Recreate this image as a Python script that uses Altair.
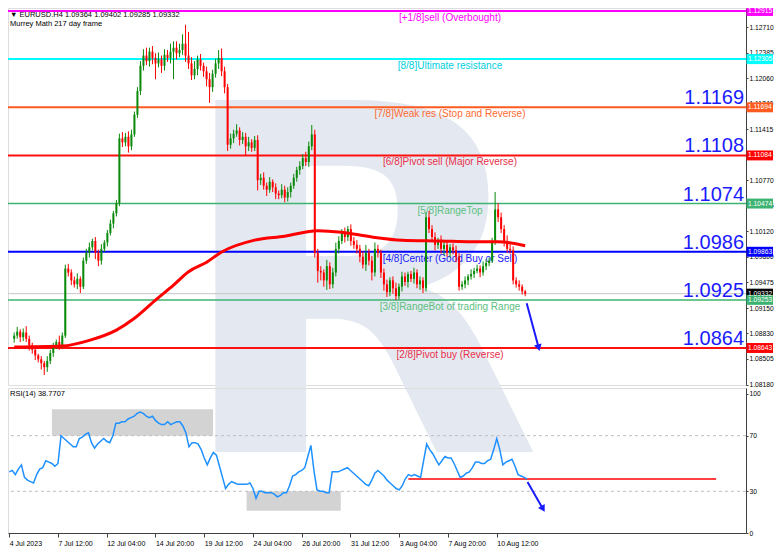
import altair as alt
import pandas as pd

# ---------------- data ----------------
first_open = 1.0876
closes = [
    1.0880, 1.0885, 1.0878, 1.0884, 1.0876, 1.0868,
    1.0862, 1.0855, 1.0850, 1.0845, 1.0840, 1.0848,
    1.0858, 1.0866, 1.0872, 1.0868, 1.0880,
    1.0965,
    1.0960, 1.0950, 1.0945, 1.0952, 1.0942,
    1.0975, 1.0985, 1.0992, 1.1000,
    1.0985, 1.0975, 1.0990,
    1.0998, 1.1010, 1.1022, 1.1035, 1.1048,
    1.1130,
    1.1125, 1.1132, 1.1120, 1.1135,
    1.1160, 1.1190, 1.1222,
    1.1235, 1.1228, 1.1240, 1.1232, 1.1225, 1.1230, 1.1222, 1.1236, 1.1232, 1.1240, 1.1245, 1.1238, 1.1242,
    1.1250, 1.1235,
    1.1225, 1.1210, 1.1218, 1.1230, 1.1222, 1.1215, 1.1205, 1.1195, 1.1212, 1.1225, 1.1232,
    1.1215, 1.1195,
    1.1122,
    1.1130, 1.1136, 1.1140, 1.1128, 1.1132, 1.1120, 1.1125, 1.1118, 1.1128,
    1.1077,
    1.1080, 1.1070, 1.1065, 1.1075, 1.1068, 1.1060, 1.1058, 1.1065, 1.1055, 1.1062, 1.1070,
    1.1080, 1.1090, 1.1095, 1.1105, 1.1100, 1.1120, 1.1135,
    1.0985,
    1.0962,
    1.0960, 1.0950, 1.0968, 1.0945, 1.0960,
    1.0990, 1.1000, 1.1010, 1.1005, 1.1015, 1.1000, 1.0995,
    1.0990, 1.0980, 1.0970, 1.0985, 1.0975, 1.0960, 1.0990, 1.0985, 1.0960,
    1.0945, 1.0935, 1.0950, 1.0940, 1.0930, 1.0942, 1.0955, 1.0948, 1.0958, 1.0952, 1.0960, 1.0945, 1.0950, 1.0940,
    1.1030,
    1.1015, 1.1005, 1.0995, 1.1000, 1.0990, 1.0995, 1.0985, 1.0992, 1.0988, 1.0980,
    1.0942,
    1.0945, 1.0950, 1.0955, 1.0958, 1.0962, 1.0965, 1.0960, 1.0968, 1.0972, 1.0975,
    1.1000, 1.1040,
    1.1030, 1.1015, 1.1000, 1.0990, 1.0988,
    1.0950,
    1.0945, 1.0942, 1.0936, 1.0933,
]
upper_wick_pips = [
    4, 6, 3, 5, 8, 4, 3, 5, 2, 4, 3, 6, 4, 5, 3, 8, 4,
    5,
    6, 4, 5, 7, 3,
    4, 5, 6, 3,
    5, 4, 6,
    3, 4, 5, 3, 4,
    6,
    8, 5, 7, 6,
    4, 5, 6,
    8, 10, 5, 7, 6, 9, 5, 7, 6, 10, 8, 8, 8,
    12, 24,
    30, 8, 10, 5, 7, 4, 6, 8, 5, 6, 10,
    12, 6,
    4,
    6, 5, 8, 4, 6, 5, 7, 4, 5,
    6,
    5, 7, 4, 6, 3, 5, 4, 7, 5, 6, 4,
    5, 4, 6, 5, 8, 6, 12,
    6,
    5,
    6, 4, 8, 5, 6,
    8, 6, 5, 7, 4, 6, 5,
    6, 5, 7, 10, 5, 6, 8, 5, 4,
    5, 6, 4, 5, 7, 4, 6, 5, 3, 4, 6, 4, 5, 4,
    6,
    8, 5, 6, 4, 7, 5, 6, 4, 5, 6,
    5,
    4, 5, 3, 6, 4, 5, 4, 6, 5, 4,
    4, 22,
    8, 6, 5, 7, 6,
    5,
    4, 5, 3, 2,
]
lower_wick_pips = [
    5, 4, 6, 5, 4, 7, 5, 6, 4, 8, 10, 6, 4, 5, 3, 6, 4,
    3,
    5, 6, 4, 6, 8,
    3, 4, 6, 4,
    8, 7, 5,
    4, 5, 3, 6, 4,
    4,
    6, 5, 8, 5,
    3, 4, 5,
    6, 5, 7, 8, 20, 5, 9, 6, 5, 7, 35, 8, 5,
    6, 8,
    7, 6, 5, 8, 6, 7, 9, 20, 6, 5, 7,
    6, 8,
    8,
    5, 6, 4, 7, 5, 12, 6, 5, 4,
    13,
    6, 5, 8, 4, 6, 7, 5, 4, 6, 5, 7,
    4, 5, 6, 4, 5, 6, 5,
    6,
    15,
    10, 8, 12, 6, 5,
    5, 6, 4, 7, 5, 6, 5,
    6, 7, 5, 8, 6, 10, 5, 6, 7,
    8, 6, 5, 7, 5, 4, 6, 5, 7, 4, 6, 5, 7, 6,
    4,
    5, 6, 7, 5, 6, 8, 5, 6, 5, 7,
    5,
    4, 5, 6, 4, 5, 3, 6, 4, 5, 4,
    3, 5,
    6, 5, 7, 5, 4,
    5,
    4, 5, 4, 3,
]
rsi_values = [
    44, 45, 42, 46, 49, 40, 38, 37, 36, 42, 46, 47, 52, 51, 50, 48, 50,
    70, 68, 66, 64, 62, 62, 68, 69, 71, 72, 65, 61, 64, 66, 68, 66, 65, 70,
    79, 79, 80, 80, 82, 83, 84, 86, 87, 86, 84, 83, 84, 81, 79, 78, 78, 80, 78, 79, 80, 80, 77,
    72, 62, 65, 65, 64, 60, 54, 49, 54, 58, 56, 48, 40, 32, 35, 37, 36, 35, 35, 35, 35, 36, 32,
    25, 30, 30, 29, 29, 29, 28, 26, 27, 29, 29, 34, 41, 42, 44, 45, 47, 55, 63, 45, 31, 30, 30, 29, 29,
    44, 44, 44, 45, 46, 47, 45, 43, 41, 39, 37, 35, 34, 38, 43, 45, 43, 41, 38, 36,
    34, 32, 31, 34, 39, 42, 41, 42, 41, 40, 52,
    64, 60, 57, 53, 49, 52, 55, 54, 54, 50, 45, 40, 41, 43, 44, 47, 51, 51, 50, 50,
    52, 53, 60, 68, 60, 49, 51, 52, 53, 48, 42, 41, 40, 38.77,
]
ma_index = [0, 16, 25, 34, 40, 47, 53, 58, 64, 69, 80, 90, 101, 109, 119, 129, 142, 152, 161, 170]
ma_values = [1.08655, 1.08668, 1.0874, 1.0887, 1.0902, 1.0925, 1.0944, 1.0961, 1.0973, 1.0986,
             1.1001, 1.1006, 1.1013, 1.1011, 1.1005, 1.1001, 1.1000, 1.0999, 1.0999, 1.0994]

level_prices = [1.12915, 1.12305, 1.11694, 1.11084, 1.10474, 1.09863, 1.09253, 1.08643]
level_names = ["[+1/8]sell (Overbought)", "[8/8]Ultimate resistance", "[7/8]Weak res (Stop and Reverse)",
               "[6/8]Pivot sell (Major Reverse)", "[5/8]RangeTop", "[4/8]Center (Good Buy or Sell)",
               "[3/8]RangeBot of trading Range", "[2/8]Pivot buy (Reverse)"]
level_colors = ["#ff00ff", "#00ffff", "#ff5a1f", "#ff1010", "#3cb371", "#0000ff", "#3cb371", "#ff1010"]
level_text_colors = ["#ff00ff", "#00d0e0", "#ff6a30", "#e8304a", "#5cbf80", "#2020ff", "#5cbf80", "#e8304a"]
level_widths = [2, 2, 2, 2, 1.5, 2, 1.5, 2]
big_labels = ["1.1169", "1.1108", "1.1074", "1.0986", "1.0925", "1.0864"]
big_label_prices = [1.11694, 1.11084, 1.10474, 1.09863, 1.09253, 1.08643]

current_price = 1.09332
tag_prices = [1.12915, 1.12305, 1.11694, 1.11084, 1.10474, 1.09863, 1.09332, 1.09253, 1.08643]
tag_texts = ["1.12915", "1.12305", "1.11694", "1.11084", "1.10474", "1.09863", "1.09332", "1.09253", "1.08643"]
tag_colors = ["#ff00ff", "#00ffff", "#ff5a1f", "#ff0000", "#3cb371", "#0000ff", "#000000", "#3cb371", "#ff0000"]

price_axis_values = [1.0818, 1.08505, 1.0883, 1.0915, 1.09475, 1.098, 1.1012, 1.10445,
                     1.1077, 1.11095, 1.11415, 1.1174, 1.1206, 1.12385, 1.1271]
time_tick_index = [0, 16, 32, 48, 64, 80, 96, 112, 128, 144, 160]
time_tick_labels = ["4 Jul 2023", "7 Jul 12:00", "12 Jul 04:00", "14 Jul 20:00", "19 Jul 12:00",
                    "24 Jul 04:00", "26 Jul 20:00", "31 Jul 12:00", "3 Aug 04:00", "7 Aug 20:00", "10 Aug 12:00"]

rsi_box_x = [14.0, 77.9]
rsi_box_x2 = [66.9, 108.8]
rsi_box_lo = [70, 16]
rsi_box_hi = [89, 30]
rsi_level = 38.8
rsi_level_from, rsi_level_to = 131, 232
arrow_main_idx = [170.5, 174.4]
arrow_main_price = [1.0921, 1.0866]
arrow_rsi_idx = [170.1, 175.0]
arrow_rsi_val = [36.7, 18.0]

title_text = "\u25bc EURUSD.H4  1.09364 1.09402 1.09285 1.09332"
indicator_text = "Murrey Math 217 day frame"
rsi_text = "RSI(14) 38.7707"

# ---------------- styling ----------------
FONT = "Liberation Sans"
GREEN = "#0a8a0a"
RED = "#ff0000"
BLUE = "#1a1aff"
W, H1, H2 = 738, 377, 145
XDOM = [-0.4, 241.8]
YDOM = [1.08174, 1.12953]
RDOM = [0, 104.3]
TAG_HALF = 0.00063
AX_FS = 6.7

n = min(len(closes), len(upper_wick_pips), len(lower_wick_pips))
opens = [first_open] + closes[:-1]
candles = pd.DataFrame({
    "i": list(range(n)),
    "open": opens[:n],
    "close": closes[:n],
    "high": [max(opens[k], closes[k]) + upper_wick_pips[k] * 1e-4 for k in range(n)],
    "low": [min(opens[k], closes[k]) - lower_wick_pips[k] * 1e-4 for k in range(n)],
    "up": [closes[k] > opens[k] for k in range(n)],
})
rsi_df = pd.DataFrame({"i": list(range(len(rsi_values))), "v": rsi_values})
ma_df = pd.DataFrame({"i": ma_index, "v": ma_values})
levels_df = pd.DataFrame({"price": level_prices, "name": level_names, "color": level_colors,
                          "tcolor": level_text_colors, "w": level_widths})
big_df = pd.DataFrame({"price": big_label_prices, "t": big_labels})
tags_df = pd.DataFrame({"price": tag_prices, "t": tag_texts, "color": tag_colors})

xs = alt.Scale(domain=XDOM, nice=False, zero=False)
ys = alt.Scale(domain=YDOM, nice=False, zero=False)
rs = alt.Scale(domain=RDOM, nice=False, zero=False)
yaxis = alt.Axis(orient="right", values=price_axis_values, format=".5f", title=None, grid=False,
                 labelFontSize=AX_FS, tickSize=2, labelPadding=1, domainColor="#404040",
                 tickColor="#404040", labelColor="#000000", labelFont=FONT, labelOverlap=False)
label_expr = "[" + ",".join("'" + s + "'" for s in time_tick_labels) + "][round(datum.value/16)]"
rxaxis = alt.Axis(values=time_tick_index, labelExpr=label_expr, title=None, grid=False,
                  labelAlign="left", labelFontSize=7, tickSize=4, labelPadding=2,
                  labelFlush=False, labelOverlap=False, domainColor="#404040",
                  tickColor="#404040", labelColor="#000000", labelFont=FONT)
ryaxis = alt.Axis(orient="right", values=[0, 30, 70, 100], title=None, grid=False,
                  labelFontSize=AX_FS, tickSize=2, labelPadding=1, domainColor="#404040",
                  tickColor="#404040", labelColor="#000000", labelFont=FONT)


def X(f):
    return alt.X(f, type="quantitative", scale=xs, axis=None)


def Y(f):
    return alt.Y(f, type="quantitative", scale=ys, axis=yaxis)


def RX(f):
    return alt.X(f, type="quantitative", scale=xs, axis=rxaxis)


def RY(f):
    return alt.Y(f, type="quantitative", scale=rs, axis=ryaxis)


one = pd.DataFrame({"t": ["R"]})

watermark = alt.Chart(one).mark_text(
    font="DejaVu Sans", fontWeight="bold", fontSize=483, color="#e4e9f1",
    align="left", baseline="alphabetic").encode(x=alt.value(163), y=alt.value(444), text="t:N")

cur_line = alt.Chart(pd.DataFrame({"price": [current_price]})).mark_rule(
    color="#c8c8c8", strokeWidth=1).encode(y=Y("price"))

level_rules = alt.Chart(levels_df).mark_rule().encode(
    y=Y("price"), color=alt.Color("color:N", scale=None),
    strokeWidth=alt.StrokeWidth("w:Q", scale=None))

level_text = alt.Chart(levels_df).mark_text(
    font=FONT, fontSize=10, align="center", baseline="middle", dy=7).encode(
    x=alt.value(442), y=Y("price"), text="name:N", color=alt.Color("tcolor:N", scale=None))

big_text = alt.Chart(big_df).mark_text(
    font=FONT, fontSize=20, align="right", baseline="alphabetic", dy=-3, color=BLUE).encode(
    x=alt.value(736), y=Y("price"), text="t:N")

cond = alt.condition("datum.up", alt.value(GREEN), alt.value(RED))
wicks = alt.Chart(candles).mark_rule(strokeWidth=1).encode(
    x=X("i"), y=Y("low"), y2=alt.Y2("high"), color=cond)
bodies = alt.Chart(candles).mark_bar(size=2).encode(
    x=X("i"), y=Y("open"), y2=alt.Y2("close"), color=cond)

ma_line = alt.Chart(ma_df).mark_line(color=RED, strokeWidth=3, interpolate="monotone").encode(
    x=X("i"), y=Y("v"))

arrow_df = pd.DataFrame({"i": arrow_main_idx, "p": arrow_main_price})
arrow_line = alt.Chart(arrow_df).mark_line(color=BLUE, strokeWidth=2).encode(x=X("i"), y=Y("p"))
arrow_head = alt.Chart(arrow_df.tail(1)).mark_point(
    shape="triangle", filled=True, size=60, angle=165, color=BLUE, opacity=1).encode(x=X("i"), y=Y("p"))

tag_rect = alt.Chart(tags_df).transform_calculate(
    lo=f"datum.price - {TAG_HALF}", hi=f"datum.price + {TAG_HALF}").mark_rect().encode(
    x=alt.value(738.5), x2=alt.value(765), y=Y("lo:Q"), y2=alt.Y2("hi:Q"),
    color=alt.Color("color:N", scale=None))
tag_text = alt.Chart(tags_df).mark_text(
    font=FONT, fontSize=AX_FS, align="left", baseline="middle", color="#ffffff").encode(
    x=alt.value(740), y=Y("price"), text="t:N")

title = alt.Chart(pd.DataFrame({"t": [title_text]})).mark_text(
    font=FONT, fontSize=7.5, align="left", baseline="middle", color="#000000").encode(
    x=alt.value(2), y=alt.value(6.5), text="t:N")
ind_label = alt.Chart(pd.DataFrame({"t": [indicator_text]})).mark_text(
    font=FONT, fontSize=7.5, align="left", baseline="middle", color="#000000").encode(
    x=alt.value(2), y=alt.value(16), text="t:N")

top = alt.layer(
    watermark, cur_line, level_rules, level_text, big_text, wicks, bodies, ma_line,
    arrow_line, arrow_head, tag_rect, tag_text, title, ind_label
).properties(width=W, height=H1)

# ---------------- RSI panel ----------------
box_df = pd.DataFrame({"a": rsi_box_x, "b": rsi_box_x2, "lo": rsi_box_lo, "hi": rsi_box_hi})
boxes = alt.Chart(box_df).mark_rect(color="#d3d3d3").encode(
    x=RX("a"), x2=alt.X2("b"), y=RY("lo"), y2=alt.Y2("hi"))
dashes = alt.Chart(pd.DataFrame({"v": [30, 70]})).mark_rule(
    color="#bdbdbd", strokeDash=[3, 3], strokeWidth=1).encode(y=RY("v"))
red_lvl = alt.Chart(pd.DataFrame({"a": [rsi_level_from], "b": [rsi_level_to], "v": [rsi_level]})).mark_rule(
    color=RED, strokeWidth=1.5).encode(x=RX("a"), x2=alt.X2("b"), y=RY("v"))
rsi_line = alt.Chart(rsi_df).mark_line(color="#1e90ff", strokeWidth=1.5).encode(x=RX("i"), y=RY("v"))
rarrow_df = pd.DataFrame({"i": arrow_rsi_idx, "v": arrow_rsi_val})
rarrow_line = alt.Chart(rarrow_df).mark_line(color=BLUE, strokeWidth=2).encode(x=RX("i"), y=RY("v"))
rarrow_head = alt.Chart(rarrow_df.tail(1)).mark_point(
    shape="triangle", filled=True, size=60, angle=150, color=BLUE, opacity=1).encode(x=RX("i"), y=RY("v"))
rsi_label = alt.Chart(pd.DataFrame({"t": [rsi_text]})).mark_text(
    font=FONT, fontSize=7.5, align="left", baseline="middle", color="#000000").encode(
    x=alt.value(2), y=alt.value(6), text="t:N")

bottom = alt.layer(
    boxes, dashes, red_lvl, rsi_line, rarrow_line, rarrow_head, rsi_label
).properties(width=W, height=H2)

chart = alt.vconcat(top, bottom, spacing=3).properties(
    padding={"left": -3, "top": -3, "right": 0, "bottom": 0}, bounds="flush"
).configure_view(stroke="#505050", strokeWidth=1).configure(background="#ffffff")

chart.save("out.html", embed_options={"renderer": "svg", "actions": False})
